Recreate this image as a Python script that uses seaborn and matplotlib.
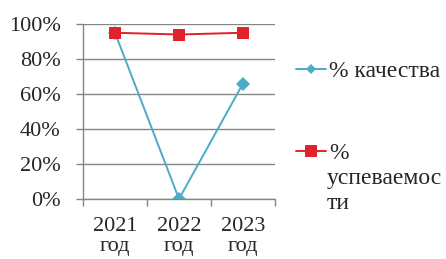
import pandas as pd
import seaborn as sns
import matplotlib.pyplot as plt
from matplotlib.lines import Line2D

# data
years = ['2021\nгод', '2022\nгод', '2023\nгод']
quality = [0.95, 0.0, 0.66]
success = [0.95, 0.94, 0.95]
series_names = ['% качества', '% успеваемости']
colors = ['#4AACC6', '#E2222B']

df = pd.DataFrame({
    'year': years * 2,
    'value': quality + success,
    'series': [series_names[0]] * 3 + [series_names[1]] * 3,
})

sns.set_style('white')
plt.rcParams['font.family'] = ['Liberation Serif', 'DejaVu Serif']

fig = plt.figure(figsize=(4.46, 2.59), dpi=100)
ax = fig.add_axes([0.1861, 0.2317, 0.6166 - 0.1861, 0.9073 - 0.2317])

sns.lineplot(data=df, x='year', y='value', hue='series', style='series',
             palette=colors, markers=['D', 's'], dashes=False, sort=False,
             linewidth=1.4, markersize=7, markeredgewidth=0, ax=ax, legend=False)
ax.lines[1].set_markersize(9)

ax.set_ylim(0, 1)
ax.set_xlim(-0.5, 2.5)
ax.set_yticks([0, 0.2, 0.4, 0.6, 0.8, 1.0])
ax.set_yticklabels(['0%', '20%', '40%', '60%', '80%', '100%'], fontsize=16)
ax.set_xticks([0, 1, 2])
ax.set_xticklabels(years, fontsize=16, linespacing=1.05)
ax.set_xticks([-0.5, 0.5, 1.5, 2.5], minor=True)
ax.tick_params(axis='x', which='major', length=0, pad=13)
ax.tick_params(axis='x', which='minor', length=5, width=1, color='#868686', direction='out', bottom=True)
ax.tick_params(axis='y', length=5, width=1, color='#868686', direction='out', left=True, pad=11)
ax.set_xlabel('')
ax.set_ylabel('')

ax.grid(axis='y', color='#868686', linewidth=1)
ax.set_axisbelow(True)
for s in ['top', 'right']:
    ax.spines[s].set_visible(False)
for s in ['left', 'bottom']:
    ax.spines[s].set_color('#868686')
    ax.spines[s].set_linewidth(1)

handles = [
    Line2D([], [], color=colors[0], marker='D', markersize=5, markeredgewidth=0, linewidth=1.4),
    Line2D([], [], color=colors[1], marker='s', markersize=8, markeredgewidth=0, linewidth=1.4),
]
fig.legend(handles, ['% качества', '%'], loc='upper left', bbox_to_anchor=(0.663, 0.765),
           frameon=False, fontsize=17, handlelength=1.3, handletextpad=0.12,
           labelspacing=2.55, borderpad=0, borderaxespad=0)
fig.text(0.733, 0.35, 'успеваемос\nти', fontsize=17, va='top', ha='left', linespacing=1.25)

fig.savefig('out.png', dpi=100)
